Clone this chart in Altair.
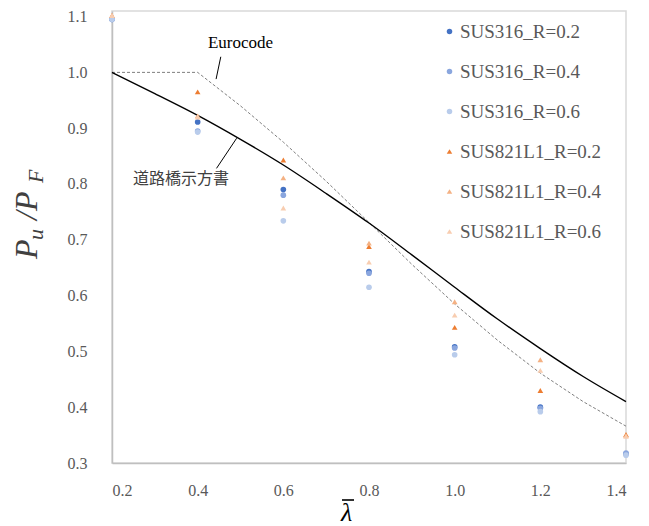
import altair as alt
import pandas as pd

# ---- data ----
lam = [0.2, 0.4, 0.6, 0.8, 1.0, 1.2, 1.4]
sus316_r02 = [1.095, 0.911, 0.790, 0.643, 0.508, 0.400, 0.316]
sus316_r04 = [1.095, 0.895, 0.780, 0.640, 0.506, 0.398, 0.318]
sus316_r06 = [1.095, 0.893, 0.734, 0.615, 0.494, 0.392, 0.314]
sus821_r02 = [1.102, 0.965, 0.843, 0.688, 0.543, 0.430, 0.351]
sus821_r04 = [1.102, 0.922, 0.811, 0.694, 0.589, 0.485, 0.349]
sus821_r06 = [1.102, 0.920, 0.757, 0.660, 0.565, 0.466, 0.348]

series_names = ["SUS316_R=0.2", "SUS316_R=0.4", "SUS316_R=0.6",
                "SUS821L1_R=0.2", "SUS821L1_R=0.4", "SUS821L1_R=0.6"]
series_colors = ["#4472C4", "#8AA6DE", "#B9CCEB",
                 "#ED7D31", "#F4B183", "#F8CDB0"]
series_shapes = ["circle", "circle", "circle",
                 "triangle-up", "triangle-up", "triangle-up"]

jp_lam = [0.2, 0.3, 0.4, 0.5, 0.6, 0.7, 0.8, 0.9, 1.0, 1.1, 1.2, 1.3, 1.4]
jp_val = [1.000, 0.962, 0.923, 0.880, 0.834, 0.783, 0.730, 0.673, 0.615,
          0.558, 0.505, 0.455, 0.410]

ec_lam = [0.2, 0.4, 0.5, 0.6, 0.7, 0.8, 0.9, 1.0, 1.1, 1.2, 1.3, 1.4]
ec_val = [1.000, 1.000, 0.940, 0.875, 0.805, 0.731, 0.656, 0.585, 0.520,
          0.461, 0.410, 0.366]

x_ticks = [0.2, 0.4, 0.6, 0.8, 1.0, 1.2, 1.4]
y_ticks = [0.3, 0.4, 0.5, 0.6, 0.7, 0.8, 0.9, 1.0, 1.1]

# annotation anchors (data coordinates)
ann_text = ["Eurocode", "道路橋示方書"]
ann_lam = [0.424, 0.249]
ann_val = [1.044, 0.809]
lead_lam = [0.454, 0.491]
lead_val = [1.028, 0.882]
lead_lam2 = [0.443, 0.444]
lead_val2 = [0.988, 0.828]

# ---- tables ----
rows = []
for name, vals in zip(series_names,
                      [sus316_r02, sus316_r04, sus316_r06,
                       sus821_r02, sus821_r04, sus821_r06]):
    for l, v in zip(lam, vals):
        rows.append({"lam": l, "pu": v, "series": name})
pts = pd.DataFrame(rows)
jp = pd.DataFrame({"lam": jp_lam, "pu": jp_val})
ec = pd.DataFrame({"lam": ec_lam, "pu": ec_val})
leads = pd.DataFrame({"lam": lead_lam, "pu": lead_val,
                      "lam2": lead_lam2, "pu2": lead_val2})

SERIF = "Liberation Serif"
xs = alt.Scale(domain=[0.2, 1.4], nice=False, zero=False)
ys = alt.Scale(domain=[0.3, 1.11], nice=False, zero=False)

x_enc = alt.X("lam:Q", scale=xs,
              axis=alt.Axis(values=x_ticks, format=".1f", title="λ",
                            titleFont=SERIF, titleFontStyle="italic",
                            titleFontWeight="normal", titleFontSize=26,
                            titleColor="#000000", titleX=234, titleY=57,
                            titleAlign="center", titleBaseline="alphabetic",
                            labelPadding=19))
y_enc = alt.Y("pu:Q", scale=ys,
              axis=alt.Axis(values=y_ticks, format=".1f", title=None,
                            labelPadding=25))

ec_line = alt.Chart(ec).mark_line(color="#7F7F7F", strokeWidth=1,
                                  strokeDash=[3, 2]).encode(x=x_enc, y=y_enc)
jp_line = alt.Chart(jp).mark_line(color="#000000", strokeWidth=1.4,
                                  interpolate="monotone").encode(
    x=alt.X("lam:Q", scale=xs), y=alt.Y("pu:Q", scale=ys))

points = alt.Chart(pts).mark_point(filled=True, size=32, opacity=1).encode(
    x=alt.X("lam:Q", scale=xs),
    y=alt.Y("pu:Q", scale=ys),
    color=alt.Color("series:N",
                    scale=alt.Scale(domain=series_names, range=series_colors),
                    legend=alt.Legend(orient="none", legendX=328, legendY=11,
                                      title=None)),
    shape=alt.Shape("series:N",
                    scale=alt.Scale(domain=series_names, range=series_shapes),
                    legend=alt.Legend(orient="none", legendX=328, legendY=11,
                                      title=None)),
)

lead_rules = alt.Chart(leads).mark_rule(color="#000000", strokeWidth=1).encode(
    x=alt.X("lam:Q", scale=xs), y=alt.Y("pu:Q", scale=ys),
    x2="lam2:Q", y2="pu2:Q")

eu_text = alt.Chart(pd.DataFrame({"lam": [ann_lam[0]], "pu": [ann_val[0]],
                                  "t": [ann_text[0]]})).mark_text(
    font=SERIF, fontSize=17, color="#000000", align="left",
    baseline="alphabetic").encode(
    x=alt.X("lam:Q", scale=xs), y=alt.Y("pu:Q", scale=ys), text="t:N")
jp_text = alt.Chart(pd.DataFrame({"lam": [ann_lam[1]], "pu": [ann_val[1]],
                                  "t": [ann_text[1]]})).mark_text(
    font="Noto Sans CJK JP", fontSize=16, color="#404040", align="left",
    baseline="middle").encode(
    x=alt.X("lam:Q", scale=xs), y=alt.Y("pu:Q", scale=ys), text="t:N")

# overbar of the x-axis title (lambda bar)
overbar = alt.Chart(pd.DataFrame({"a": [0]})).mark_rule(
    color="#000000", strokeWidth=1.6).encode(
    x=alt.value(230), x2=alt.value(242), y=alt.value(489), y2=alt.value(489))

# y-axis title P_u / P_F built from pieces (rotated)
one = pd.DataFrame({"a": [0]})
def piece(txt, size, px, py):
    return alt.Chart(one).mark_text(
        text=txt, font=SERIF, fontStyle="italic", fontSize=size,
        color="#404040", angle=270, align="left", baseline="alphabetic"
    ).encode(x=alt.value(px), y=alt.value(py))

ytitle = (piece("P", 32, -75, 248) + piece("u", 22, -69, 229)
          + piece("/P", 32, -75, 209) + piece("F", 22, -69, 172))

chart = alt.layer(ec_line, jp_line, lead_rules, eu_text, jp_text, points,
                  overbar, ytitle).properties(
    width=514, height=452, background="white",
    autosize=alt.AutoSizeParams(type="none"),
    padding={"left": 112, "top": 11, "right": 23, "bottom": 63},
).configure_view(stroke="#D9D9D9", strokeWidth=1.5).configure_axis(
    labelFont=SERIF, labelFontSize=16, labelColor="#595959", ticks=False,
    grid=False, domainColor="#BFBFBF", domainWidth=1.5
).configure_legend(
    labelFont=SERIF, labelFontSize=19, labelColor="#595959",
    symbolSize=30, rowPadding=20, labelOffset=1, padding=0,
    symbolStrokeWidth=0
)

chart.save("out.html", embed_options={"renderer": "svg", "actions": False})
